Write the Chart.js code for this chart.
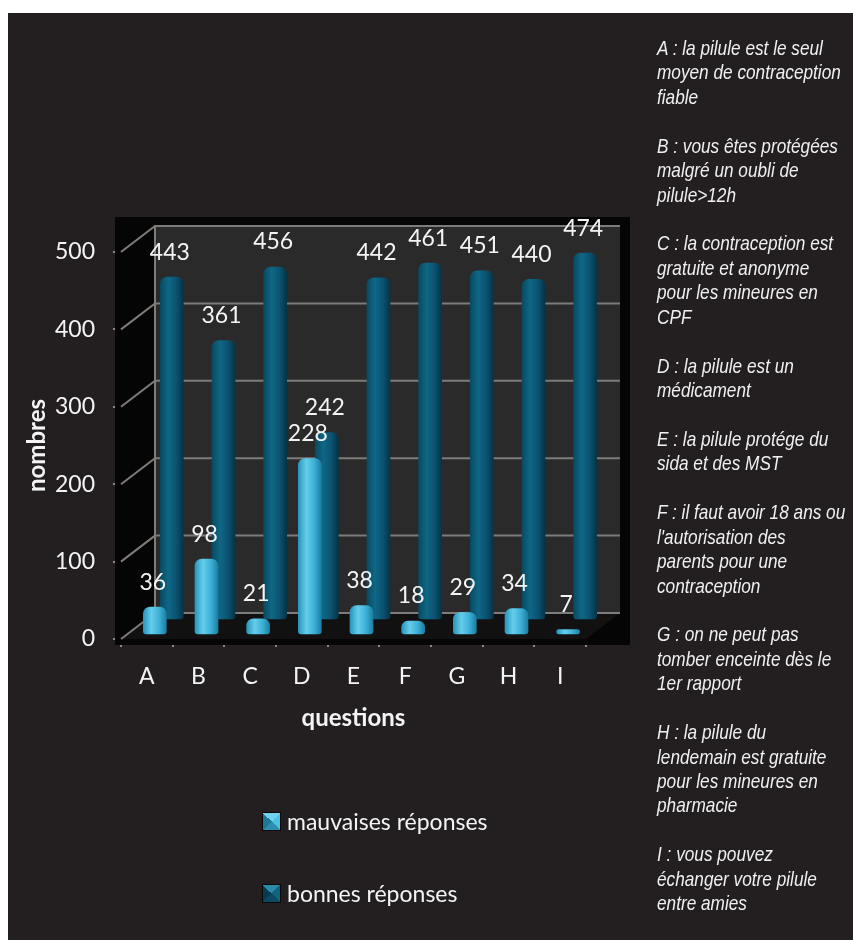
<!DOCTYPE html>
<html lang="fr">
<head>
<meta charset="utf-8">
<title>Réponses aux questions</title>
<script src="https://cdn.jsdelivr.net/npm/chart.js@4/dist/chart.umd.min.js"></script>
<style>
  html, body { margin: 0; padding: 0; background: #fff; }
  #page { position: relative; width: 853px; height: 943px; overflow: hidden; }
  #panneau { position: absolute; left: 8px; top: 13px; right: 0; height: 927px; background: #231f20; }
  #zone { position: absolute; left: 0; top: 0; width: 853px; height: 943px; }
  #legende { position: absolute; left: 262px; top: 806px; font-family: Lato, sans-serif; font-size: 23px; color: #f4f4f4; }
  #legende .item { display: flex; align-items: center; height: 30px; margin-bottom: 42px; }
  #legende .boite { width: 17px; height: 17px; border: 1px solid #080808; margin-right: 6px; }
  #questions { position: absolute; left: 657px; top: 36px; width: 260px; transform: scaleX(0.82); transform-origin: left top;
    font-family: "Liberation Sans", Arial, sans-serif; font-style: italic; font-size: 21px; line-height: 24.43px; color: #f0f0f0; }
  #questions p { margin: 0 0 24.43px 0; white-space: nowrap; }
</style>
</head>
<body>
<div id="page">
  <div id="panneau"></div>
  <div id="zone"><canvas id="chart-questions"></canvas></div>
  <div id="questions"></div>
  <div id="legende"></div>
</div>
<script>
// ── DONNÉES ────────────────────────────────────────────────
const categories = ['A', 'B', 'C', 'D', 'E', 'F', 'G', 'H', 'I'];
const mauvaises = [36, 98, 21, 228, 38, 18, 29, 34, 7];
const bonnes = [443, 361, 456, 242, 442, 461, 451, 440, 474];
const yTickValues = [0, 100, 200, 300, 400, 500];
const seriesLabels = ['mauvaises réponses', 'bonnes réponses'];
const questionTexts = [
  ['A : la pilule est le seul', 'moyen de contraception', 'fiable'],
  ['B : vous êtes protégées', 'malgré un oubli de', 'pilule>12h'],
  ['C : la contraception est', 'gratuite et anonyme', 'pour les mineures en', 'CPF'],
  ['D : la pilule est un', 'médicament'],
  ['E : la pilule protége du', 'sida et des MST'],
  ['F : il faut avoir 18 ans ou', "l'autorisation des", 'parents pour une', 'contraception'],
  ['G : on ne peut pas', 'tomber enceinte dès le', '1er rapport'],
  ['H : la pilule du', 'lendemain est gratuite', 'pour les mineures en', 'pharmacie'],
  ['I : vous pouvez', 'échanger votre pilule', 'entre amies']
];

// ── STYLE ──────────────────────────────────────────────────
const couleurs = {
  texte: '#f4f4f4',
  axe: '#8e8986',
  grille: '#7e7b79',
  boite: '#050505',
  fond: '#2a2a2a',
  sol: '#111111',
  clair: ['#2596be', '#66cdea', '#3cafd6', '#1c7ea2'],
  fonce: ['#094a62', '#0f6786', '#0b5270', '#053447']
};
// décalages pseudo-3D (rangée avant, rangée arrière, paroi du fond)
const profondeur = {
  avant: { dx: 8, dy: -4 },
  arriere: { dx: 25, dy: -19 },
  paroi: { dx: 34, dy: -26 }
};
const largeurBarre = 23;
const police = 'Lato, "Open Sans", sans-serif';

function degradeBarre(palette, solide) {
  return (ctx) => {
    const chart = ctx.chart;
    if (!chart.chartArea) return solide;
    const x = chart.scales.x.getPixelForValue(ctx.dataIndex);
    const g = chart.ctx.createLinearGradient(x - largeurBarre / 2, 0, x + largeurBarre / 2, 0);
    g.addColorStop(0, palette[0]);
    g.addColorStop(0.35, palette[1]);
    g.addColorStop(0.7, palette[2]);
    g.addColorStop(1, palette[3]);
    return g;
  };
}

// ── PLUGIN : boîte 3D, parois et grille ────────────────────
const boite3d = {
  id: 'boite3d',
  beforeDatasetsDraw(chart) {
    const { ctx, chartArea: a, scales: { y } } = chart;
    const { dx, dy } = profondeur.paroi;
    const haut = y.getPixelForValue(yTickValues[yTickValues.length - 1]);
    const bas = y.getPixelForValue(0);
    ctx.save();
    ctx.fillStyle = couleurs.boite;
    ctx.fillRect(a.left - 6, haut + dy - 9, a.right - a.left + dx + 16, bas - haut - dy + 15);
    // paroi du fond
    ctx.fillStyle = couleurs.fond;
    ctx.fillRect(a.left + dx, haut + dy, a.right - a.left, bas - haut);
    // sol
    ctx.fillStyle = couleurs.sol;
    ctx.beginPath();
    ctx.moveTo(a.left, bas);
    ctx.lineTo(a.right, bas);
    ctx.lineTo(a.right + dx, bas + dy);
    ctx.lineTo(a.left + dx, bas + dy);
    ctx.closePath();
    ctx.fill();
    // grille
    ctx.strokeStyle = couleurs.grille;
    ctx.lineWidth = 2;
    yTickValues.forEach(v => {
      const py = y.getPixelForValue(v);
      ctx.beginPath();
      ctx.moveTo(a.left, py);
      ctx.lineTo(a.left + dx, py + dy);
      ctx.lineTo(a.right + dx, py + dy);
      ctx.stroke();
    });
    ctx.beginPath();
    ctx.moveTo(a.left + dx, haut + dy);
    ctx.lineTo(a.left + dx, bas + dy);
    ctx.stroke();
    ctx.restore();
  },
  beforeDatasetDraw(chart, args) {
    const d = args.index === 0 ? profondeur.avant : profondeur.arriere;
    chart.ctx.save();
    chart.ctx.translate(d.dx, d.dy);
  },
  afterDatasetDraw(chart) {
    chart.ctx.restore();
  },
  afterDatasetsDraw(chart) {
    const ctx = chart.ctx;
    ctx.save();
    ctx.font = '23px ' + police;
    ctx.fillStyle = couleurs.texte;
    ctx.textAlign = 'center';
    ctx.textBaseline = 'middle';
    chart.data.datasets.forEach((ds, i) => {
      const d = i === 0 ? profondeur.avant : profondeur.arriere;
      chart.getDatasetMeta(i).data.forEach((el, j) => {
        ctx.fillText(String(ds.data[j]), el.x + d.dx - 2, el.y + d.dy - 25);
      });
    });
    ctx.restore();
  }
};

// ── GRAPHIQUE ──────────────────────────────────────────────
const graphique = new Chart(document.getElementById('chart-questions').getContext('2d'), {
  type: 'bar',
  data: {
    labels: categories,
    datasets: [
      {
        label: seriesLabels[0],
        data: mauvaises,
        backgroundColor: degradeBarre(couleurs.clair, '#3cafd6'),
        legendColor: 'conic-gradient(from 45deg, #4fc0e0 0 25%, #2b8fb2 0 50%, #1f7898 0 75%, #6fd2ee 0 100%)'
      },
      {
        label: seriesLabels[1],
        data: bonnes,
        backgroundColor: degradeBarre(couleurs.fonce, '#0b5270'),
        legendColor: 'conic-gradient(from 45deg, #13627e 0 25%, #0b4a62 0 50%, #073b50 0 75%, #2a8bab 0 100%)'
      }
    ]
  },
  options: {
    responsive: true,
    maintainAspectRatio: false,
    animation: false,
    layout: { padding: { left: 0, top: 252, right: 267, bottom: 210 } },
    datasets: {
      bar: {
        grouped: false,
        barThickness: largeurBarre,
        borderSkipped: false,
        borderRadius: { topLeft: 7, topRight: 7, bottomLeft: 3, bottomRight: 3 },
        clip: false
      }
    },
    plugins: {
      legend: { display: false },
      tooltip: { enabled: false }
    },
    scales: {
      x: {
        offset: true,
        grid: { display: true, offset: true, drawOnChartArea: false, tickLength: 8, color: couleurs.axe, lineWidth: 2 },
        border: { display: true, color: couleurs.axe, width: 2 },
        ticks: { color: couleurs.texte, font: { family: police, size: 23 }, padding: 16 },
        title: { display: true, text: 'questions', color: couleurs.texte, padding: 0, font: { family: police, size: 24, weight: 'bold' } },
        afterFit(scale) { scale.height = 94; }
      },
      y: {
        min: 0,
        max: yTickValues[yTickValues.length - 1],
        afterBuildTicks(scale) { scale.ticks = yTickValues.map(v => ({ value: v })); },
        grid: { display: true, drawOnChartArea: false, tickLength: 8, color: couleurs.axe, lineWidth: 2 },
        border: { display: true, color: couleurs.axe, width: 2 },
        ticks: { color: couleurs.texte, font: { family: police, size: 23 }, padding: 18 },
        title: { display: true, text: 'nombres', color: couleurs.texte, padding: { top: 23, bottom: 0 }, font: { family: police, size: 24, weight: 'bold' } },
        afterFit(scale) { scale.width = 121; }
      }
    }
  },
  plugins: [boite3d]
});

// ── LÉGENDE ET QUESTIONS (HTML) ────────────────────────────
document.getElementById('legende').innerHTML = graphique.data.datasets.map(ds =>
  `<div class="item"><span class="boite" style="background:${ds.legendColor}"></span>${ds.label}</div>`
).join('');

document.getElementById('questions').innerHTML = questionTexts.map(lignes =>
  `<p>${lignes.join('<br>')}</p>`
).join('');
</script>
</body>
</html>
